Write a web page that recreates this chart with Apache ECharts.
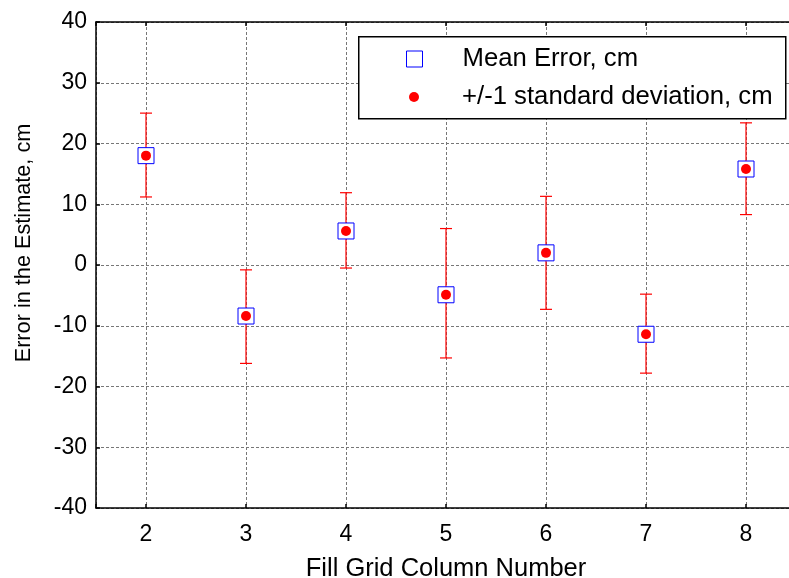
<!DOCTYPE html>
<html>
<head>
<meta charset="utf-8">
<script src="https://cdn.jsdelivr.net/npm/echarts@6/dist/echarts.min.js"></script>
<style>html,body{margin:0;padding:0;background:#fff}#c{width:789px;height:578px}</style>
</head>
<body>
<div id="c"></div>
<script>
// ---- data ----
const columns = [2, 3, 4, 5, 6, 7, 8];
const meanError = [18.0, -8.4, 5.6, -4.9, 2.0, -11.4, 15.8];
const upperStd = [25.0, -0.8, 11.9, 6.0, 11.3, -4.8, 23.4];
const lowerStd = [11.2, -16.2, -0.5, -15.3, -7.3, -17.8, 8.3];
const yTicks = [-40, -30, -20, -10, 0, 10, 20, 30, 40];
const xName = 'Fill Grid Column Number';
const yName = 'Error in the Estimate, cm';
const seriesNames = ['Mean Error, cm', '+/-1 standard deviation, cm'];

const FONT = "'Liberation Sans', Arial, sans-serif";
const points = columns.map((c, i) => [c, meanError[i]]);
const bars = columns.map((c, i) => [c, lowerStd[i], upperStd[i]]);

const chart = echarts.init(document.getElementById('c'), null, {renderer: 'canvas'});
const intLabel = v => (Math.abs(v - Math.round(v)) < 1e-9 ? String(Math.round(v)) : '');

const X_MIN = 1.5, X_MAX = 8.5;

const xCommon = {
  type: 'value', min: X_MIN, max: X_MAX, minInterval: 1, maxInterval: 1,
  axisLine: {show: true, onZero: false, lineStyle: {color: '#000', width: 1.5}},
  axisTick: {show: true, inside: true, length: 4, lineStyle: {color: '#000', width: 1.5}},
  splitLine: {show: false}
};

chart.setOption({
  animation: false,
  backgroundColor: '#fff',
  grid: {left: 96, top: 22, bottom: 70, right: -7, containLabel: false, outerBoundsMode: 'none'},
  xAxis: [
    Object.assign({}, xCommon, {
      position: 'bottom',
      name: xName, nameLocation: 'middle', nameGap: 48,
      nameTextStyle: {fontFamily: FONT, fontSize: 25.5, color: '#000'},
      axisLabel: {fontFamily: FONT, fontSize: 23, color: '#000', margin: 15, formatter: intLabel},
      splitLine: {show: true, lineStyle: {color: '#777', type: [3, 2], width: 1}}
    }),
    Object.assign({}, xCommon, {position: 'top', axisLabel: {show: false}})
  ],
  yAxis: {
    type: 'value', min: -40, max: 40, interval: 10,
    name: yName, nameLocation: 'middle', nameGap: 61,
    nameTextStyle: {fontFamily: FONT, fontSize: 21.7, color: '#000', padding: [0, 0, 0, 44]},
    axisLine: {show: true, lineStyle: {color: '#000', width: 1.5}},
    axisTick: {show: true, inside: true, length: 4, lineStyle: {color: '#000', width: 1.5}},
    axisLabel: {fontFamily: FONT, fontSize: 23, color: '#000', margin: 9,
      formatter: v => (yTicks.indexOf(v) >= 0 ? String(v) : '')},
    splitLine: {show: true, lineStyle: {color: '#777', type: [3, 2], width: 1}}
  },
  graphic: [{
    type: 'rect', left: 358, top: 36, z: 10,
    shape: {width: 427, height: 82},
    style: {fill: '#fff', stroke: '#000', lineWidth: 1.5}
  }],
  legend: [
    {
      data: [{name: seriesNames[0], icon: 'rect',
        itemStyle: {color: '#fff', borderColor: '#0000ff', borderWidth: 1}}],
      itemStyle: {color: '#fff', borderColor: '#0000ff', borderWidth: 1},
      left: 406, top: 46, padding: 0, itemWidth: 16, itemHeight: 16, z: 20,
      textStyle: {fontFamily: FONT, fontSize: 25.7, color: '#000', padding: [0, 0, 0, 35]}
    },
    {
      data: [{name: seriesNames[1], icon: 'circle',
        itemStyle: {color: '#ff0000', borderWidth: 0}}],
      itemStyle: {color: '#ff0000', borderWidth: 0},
      left: 409, top: 84, padding: 0, itemWidth: 10, itemHeight: 10, z: 20,
      textStyle: {fontFamily: FONT, fontSize: 25.7, color: '#000', padding: [0, 0, 0, 38]}
    }
  ],
  series: [
    {
      type: 'custom', name: 'errorbars', data: bars, z: 2, silent: true,
      encode: {x: 0, y: [1, 2]},
      renderItem: function (params, api) {
        const x = api.value(0);
        const lo = api.coord([x, api.value(1)]);
        const hi = api.coord([x, api.value(2)]);
        const hw = 6;
        const st = {stroke: '#ff0000', lineWidth: 1.2};
        return {type: 'group', children: [
          {type: 'line', shape: {x1: lo[0], y1: lo[1], x2: hi[0], y2: hi[1]}, style: st},
          {type: 'line', shape: {x1: lo[0] - hw, y1: lo[1], x2: lo[0] + hw, y2: lo[1]}, style: st},
          {type: 'line', shape: {x1: hi[0] - hw, y1: hi[1], x2: hi[0] + hw, y2: hi[1]}, style: st}
        ]};
      }
    },
    {
      type: 'scatter', name: seriesNames[0], data: points, z: 3,
      symbol: 'rect', symbolSize: 16,
      itemStyle: {color: '#fff', borderColor: '#0000ff', borderWidth: 1, opacity: 1}
    },
    {
      type: 'scatter', name: seriesNames[1], data: points, z: 4,
      symbol: 'circle', symbolSize: 10,
      itemStyle: {color: '#ff0000', opacity: 1}
    }
  ]
});
</script>
</body>
</html>
